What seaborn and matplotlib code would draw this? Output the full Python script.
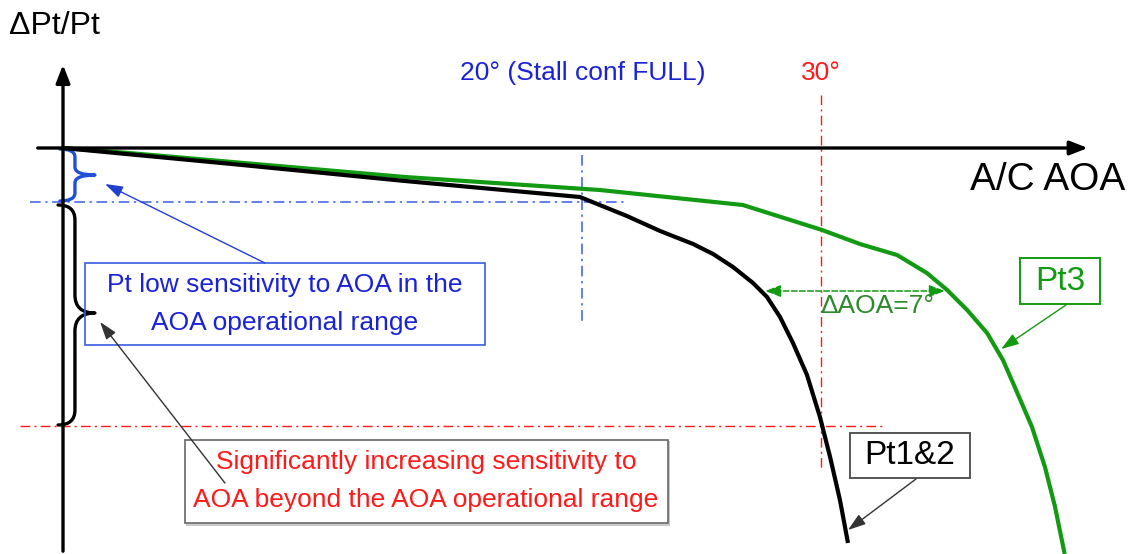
import numpy as np
import pandas as pd
import matplotlib
matplotlib.use("Agg")
import matplotlib.pyplot as plt
from matplotlib.path import Path
from matplotlib.patches import PathPatch, Rectangle
import seaborn as sns

# schematic curves: AOA (deg, relative to the y axis) vs dPt/Pt (arbitrary units)
aoa_pt12 = [0.0, 6.51, 13.18, 19.92, 21.73, 23.01, 24.28, 25.05, 25.82, 26.59, 27.13,
            27.63, 28.13, 28.67, 29.17, 29.56, 29.94, 30.25]
dpt_pt12 = [0.0, -0.16, -0.33, -0.49, -0.68, -0.83, -0.96, -1.06, -1.19, -1.35, -1.49,
            -1.69, -1.95, -2.27, -2.69, -3.09, -3.52, -3.95]
aoa_pt3 = [0.0, 2.54, 13.18, 20.69, 26.2, 29.25, 30.71, 32.14, 33.29, 34.07, 34.84,
           35.61, 36.22, 36.61, 37.34, 37.84, 38.23, 38.6]
dpt_pt3 = [0.0, -0.05, -0.29, -0.42, -0.57, -0.82, -0.96, -1.07, -1.25, -1.42, -1.62,
           -1.85, -2.12, -2.35, -2.79, -3.19, -3.59, -4.06]

stall_aoa = 20.0        # 20 deg stall conf FULL
limit_aoa = 29.2        # 30 deg line
op_limit = -0.54        # end of AOA operational range
steep_level = -2.78     # red horizontal reference
delta_aoa = (27.05, 33.99)  # dAOA = 7 deg span
delta_level = -1.43

df12 = pd.DataFrame({"aoa": aoa_pt12, "dpt": dpt_pt12})
df3 = pd.DataFrame({"aoa": aoa_pt3, "dpt": dpt_pt3})

sns.set_theme(style="white")
plt.rcParams['font.family'] = ['Liberation Sans', 'DejaVu Sans']

fig = plt.figure(figsize=(11.35, 5.54), dpi=100)
ax = fig.add_axes([0, 0, 1, 1])

blue_txt = "#1a22d6"
blue_ln = "#3a5ee0"
green = "#139a13"
red = "#ff1a1a"
dashdot = (0, (7, 3, 1.5, 3))

# reference lines
ax.plot([stall_aoa, stall_aoa], [-0.07, -1.77], color=blue_ln, lw=1.1, ls=dashdot)
ax.plot([-1.27, 21.66], [op_limit, op_limit], color=blue_ln, lw=1.1, ls=dashdot)
ax.plot([limit_aoa, limit_aoa], [0.53, -3.22], color=red, lw=1.0, ls=dashdot)
ax.plot([-1.66, 31.68], [steep_level, steep_level], color=red, lw=1.0, ls=dashdot)

# axes arrows
ax.annotate("", xy=(39.6, 0), xytext=(-1.08, 0),
            arrowprops=dict(arrowstyle="-|>,head_length=0.9,head_width=0.35", color="black", lw=2.4))
ax.annotate("", xy=(0, 0.86), xytext=(0, -4.06),
            arrowprops=dict(arrowstyle="-|>,head_length=0.9,head_width=0.35", color="black", lw=2.4))

# curves
sns.lineplot(data=df3, x="aoa", y="dpt", sort=False, color=green, lw=3.0, ax=ax,
             solid_joinstyle="round", solid_capstyle="butt")
sns.lineplot(data=df12, x="aoa", y="dpt", sort=False, color="black", lw=3.0, ax=ax,
             solid_joinstyle="round", solid_capstyle="butt")
ax.set_xlim(-2.428, 41.31)
ax.set_ylim(-4.06, 1.48)
ax.axis("off")


def brace(x0, xv, xt, top, bot, tip, r, rt, color, lw):
    verts = [(x0, top), (xv, top), (xv, top - r), (xv, tip + rt), (xv, tip), (xt, tip),
             (xv, tip), (xv, tip - rt), (xv, bot + r), (xv, bot), (x0, bot)]
    codes = [Path.MOVETO, Path.CURVE3, Path.CURVE3, Path.LINETO, Path.CURVE3, Path.CURVE3,
             Path.CURVE3, Path.CURVE3, Path.LINETO, Path.CURVE3, Path.CURVE3]
    ax.add_patch(PathPatch(Path(verts, codes), fill=False, edgecolor=color, lw=lw,
                           capstyle="round", joinstyle="round"))


brace(-0.12, 0.46, 1.23, -0.01, -0.53, -0.27, 0.08, 0.08, "#1f4fd8", 2.4)
brace(-0.19, 0.46, 1.23, -0.57, -2.77, -1.65, 0.15, 0.18, "black", 2.4)

# labels
ax.text(-2.1, 1.22, "ΔPt/Pt", fontsize=23, color="black", ha="left", va="center")
ax.text(40.93, -0.32, "A/C AOA", fontsize=28, color="black", ha="right", va="center")
ax.text(15.3, 0.75, "20° (Stall conf FULL)", fontsize=19, color=blue_txt, ha="left", va="center")
ax.text(limit_aoa, 0.75, "30°", fontsize=19, color=red, ha="center", va="center")

# delta AOA arrow
ax.annotate("", xy=(delta_aoa[1], delta_level), xytext=(delta_aoa[0], delta_level),
            arrowprops=dict(arrowstyle="<|-|>,head_length=0.8,head_width=0.3", color=green,
                            lw=1.1, ls="--", shrinkA=0, shrinkB=0))
ax.text(29.17, -1.46, "ΔAOA=7°", fontsize=19, color="#2c8a2c", ha="left", va="top")

# blue annotation box
ax.add_patch(Rectangle((0.85, -1.97), 15.41, 0.82, fill=False, edgecolor=blue_ln, lw=1.2))
ax.text(8.55, -1.56, "Pt low sensitivity to AOA in the\nAOA operational range", fontsize=19,
        color=blue_txt, ha="center", va="center", linespacing=1.75)
ax.annotate("", xy=(1.62, -0.36), xytext=(7.78, -1.15),
            arrowprops=dict(arrowstyle="-|>,head_length=0.9,head_width=0.3", color="#2040d0",
                            lw=1.0, shrinkA=0, shrinkB=0))

# red annotation box (thin frame with a light shadow)
ax.add_patch(Rectangle((4.76, -3.765), 18.6, 0.83, fill=False, edgecolor="#c8c8c8", lw=1.4))
ax.add_patch(Rectangle((4.70, -3.75), 18.6, 0.83, facecolor="white", edgecolor="#666666", lw=1.2))
ax.text(13.99, -3.33, "Significantly increasing sensitivity to\nAOA beyond the AOA operational range",
        fontsize=19, color=red, ha="center", va="center", linespacing=1.75)
ax.annotate("", xy=(1.43, -1.74), xytext=(6.24, -3.35),
            arrowprops=dict(arrowstyle="-|>,head_length=0.9,head_width=0.3", color="#333333",
                            lw=1.0, shrinkA=0, shrinkB=0))

# Pt3 label
ax.add_patch(Rectangle((36.88, -1.56), 3.08, 0.46, fill=False, edgecolor=green, lw=1.4))
ax.text(38.42, -1.33, "Pt3", fontsize=24, color=green, ha="center", va="center")
ax.annotate("", xy=(36.15, -2.01), xytext=(38.65, -1.57),
            arrowprops=dict(arrowstyle="-|>,head_length=0.9,head_width=0.3", color=green,
                            lw=1.0, shrinkA=0, shrinkB=0))

# Pt1&2 label
ax.add_patch(Rectangle((30.33, -3.30), 4.62, 0.45, fill=False, edgecolor="#555555", lw=1.4))
ax.text(32.64, -3.07, "Pt1&2", fontsize=24, color="black", ha="center", va="center")
ax.annotate("", xy=(30.25, -3.82), xytext=(32.87, -3.31),
            arrowprops=dict(arrowstyle="-|>,head_length=0.9,head_width=0.3", color="#333333",
                            lw=1.0, shrinkA=0, shrinkB=0))

fig.savefig("out.png", dpi=100)
